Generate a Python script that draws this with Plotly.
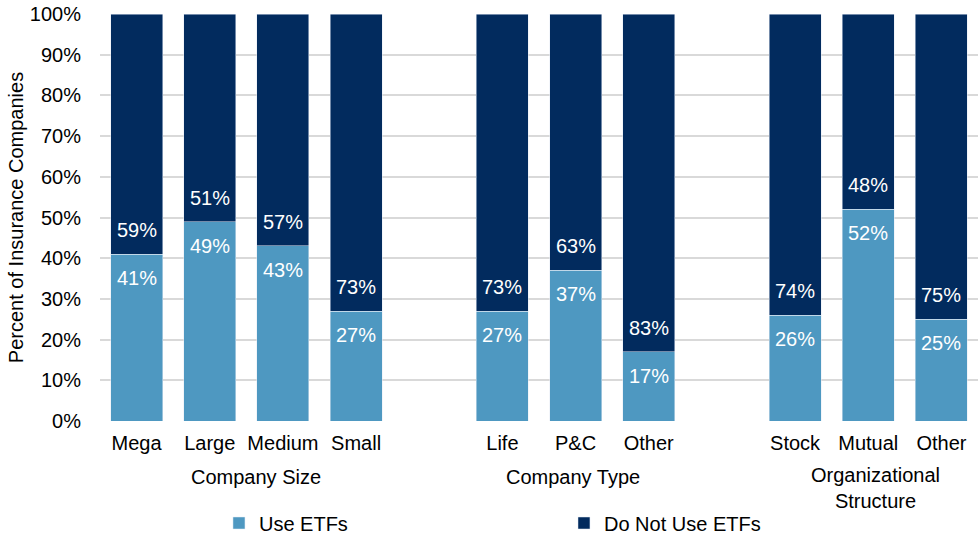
import plotly.graph_objects as go

# Data
categories = ["Mega", "Large", "Medium", "Small", "",
              "Life", "P&C", "Other", "",
              "Stock", "Mutual", "Other"]
use_etfs = [41, 49, 43, 27, None, 27, 37, 17, None, 26, 52, 25]
no_etfs = [59, 51, 57, 73, None, 73, 63, 83, None, 74, 48, 75]

y_ticks = list(range(0, 101, 10))
y_ticktext = [f"{v}%" for v in y_ticks]

groups = ["Company Size", "Company Type", "Organizational<br>Structure"]
group_pos = [1.63, 5.96, 10.1]

LIGHT = "#4E98C1"
DARK = "#022B5E"
FONT = "Liberation Sans, Arial, sans-serif"

x = list(range(len(categories)))

fig = go.Figure()
fig.add_trace(go.Bar(x=x, y=use_etfs, name="Use ETFs", marker_color=LIGHT,
                     width=0.71, hoverinfo="skip"))
fig.add_trace(go.Bar(x=x, y=no_etfs, name="Do Not Use ETFs", marker_color=DARK,
                     width=0.71, hoverinfo="skip"))

# Data labels
for xi, u, n in zip(x, use_etfs, no_etfs):
    if u is None:
        continue
    fig.add_annotation(x=xi, y=u, text=f"{u}%", showarrow=False, yshift=-24,
                       font=dict(color="white", size=20, family=FONT))
    fig.add_annotation(x=xi, y=u, text=f"{n}%", showarrow=False, yshift=24,
                       font=dict(color="white", size=20, family=FONT))

# Group labels under the categories
for g, gx in zip(groups, group_pos):
    two = "<br>" in g
    fig.add_annotation(x=gx, y=0, yref="paper", text=g, showarrow=False,
                       yanchor="middle", yshift=-67 if two else -56,
                       font=dict(color="black", size=20, family=FONT))

fig.update_layout(
    barmode="stack",
    width=978, height=536,
    margin=dict(l=100, r=0, t=14, b=115),
    plot_bgcolor="white", paper_bgcolor="white",
    font=dict(family=FONT, size=20, color="black"),
    legend=dict(orientation="h", x=0.1355, xanchor="left",
                yref="container", y=13 / 536, yanchor="middle",
                font=dict(size=20), entrywidth=300, entrywidthmode="pixels",
                traceorder="normal"),
    showlegend=True,
)
fig.update_xaxes(tickmode="array", tickvals=x, ticktext=categories,
                 range=[-0.5, len(categories) - 0.5], showgrid=False,
                 showline=False, zeroline=False, ticklabelstandoff=8,
                 automargin=False)
fig.update_yaxes(range=[0, 100], tickmode="array", tickvals=y_ticks,
                 ticktext=y_ticktext, showgrid=True, gridcolor="#D9D9D9",
                 gridwidth=2, zeroline=False, ticklabelstandoff=18,
                 automargin=False,
                 title=dict(text="Percent of Insurance Companies", standoff=0,
                            font=dict(size=20)))

# drop the default 8px body margin so the figure fills the window
fig.write_html("out.html", config={"displayModeBar": False},
               post_script="document.body.style.margin='0px';"
                           "document.body.style.overflow='hidden';")
